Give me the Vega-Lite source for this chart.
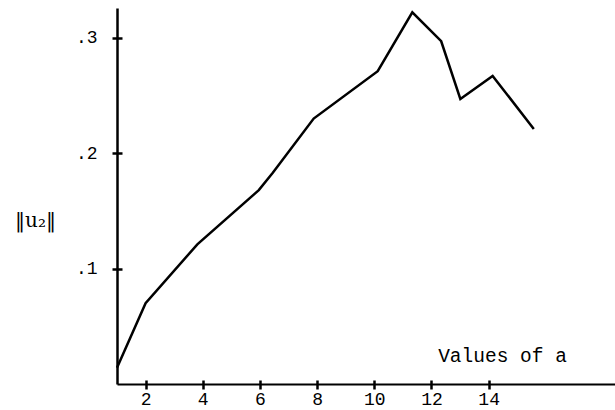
{
  "$schema": "https://vega.github.io/schema/vega-lite/v6.json",
  "width": 498,
  "height": 376,
  "autosize": {"type": "none"},
  "padding": {"left": 117, "top": 8, "right": 0, "bottom": 26},
  "background": "white",
  "config": {"view": {"stroke": null}},
  "data": {"values": [
    {"a": 1.0, "u2": 0.014},
    {"a": 2.0, "u2": 0.070},
    {"a": 3.81, "u2": 0.121},
    {"a": 5.96, "u2": 0.168},
    {"a": 6.45, "u2": 0.183},
    {"a": 7.88, "u2": 0.230},
    {"a": 10.12, "u2": 0.271},
    {"a": 11.33, "u2": 0.322},
    {"a": 12.34, "u2": 0.297},
    {"a": 13.01, "u2": 0.247},
    {"a": 14.14, "u2": 0.267},
    {"a": 15.58, "u2": 0.221}
  ]},
  "layer": [
    {
      "mark": {"type": "line", "color": "black", "strokeWidth": 2.5, "clip": false},
      "encoding": {
        "x": {"field": "a", "type": "quantitative",
          "scale": {"domain": [1, 18.42], "nice": false, "zero": false},
          "axis": {"orient": "bottom", "values": [2, 4, 6, 8, 10, 12, 14], "grid": false,
            "domainColor": "black", "domainWidth": 2, "tickColor": "black", "tickWidth": 2.5, "tickSize": 5,
            "labelFont": "Liberation Mono", "labelFontSize": 18, "labelColor": "black", "labelPadding": 10,
            "labelBaseline": "middle",
            "title": "Values of a", "titleFont": "Liberation Mono", "titleFontSize": 19.5, "titleFontWeight": "normal",
            "titleColor": "black", "titleX": 385, "titleY": -29, "titleAlign": "center", "titleBaseline": "middle"}},
        "y": {"field": "u2", "type": "quantitative",
          "scale": {"domain": [0, 0.3258], "nice": false},
          "axis": {"orient": "left", "values": [0.1, 0.2, 0.3], "grid": false,
            "domainColor": "black", "domainWidth": 2.5, "tickColor": "black", "tickWidth": 2.5, "tickSize": 5,
            "labelExpr": "replace(format(datum.value, '.1f'), '0.', '.')",
            "labelFont": "Liberation Mono", "labelFontSize": 18, "labelColor": "black", "labelPadding": 15,
            "title": "‖u₂‖", "titleFont": "DejaVu Serif", "titleFontSize": 20, "titleFontWeight": "normal",
            "titleColor": "black", "titleAngle": 0, "titleX": -82, "titleY": 212, "titleAlign": "center", "titleBaseline": "middle"}}
      }
    },
    {
      "mark": {"type": "line", "opacity": 0},
      "encoding": {
        "x": {"field": "a", "type": "quantitative",
          "axis": {"orient": "bottom", "values": [2, 4, 6, 8, 10, 12, 14], "grid": false, "domain": false, "labels": false, "title": null,
            "tickColor": "black", "tickWidth": 2.5, "tickSize": -4}},
        "y": {"field": "u2", "type": "quantitative",
          "axis": {"orient": "left", "values": [0.1, 0.2, 0.3], "grid": false, "domain": false, "labels": false, "title": null,
            "tickColor": "black", "tickWidth": 2.5, "tickSize": -5}}
      }
    }
  ],
  "resolve": {"axis": {"x": "independent", "y": "independent"}}
}
